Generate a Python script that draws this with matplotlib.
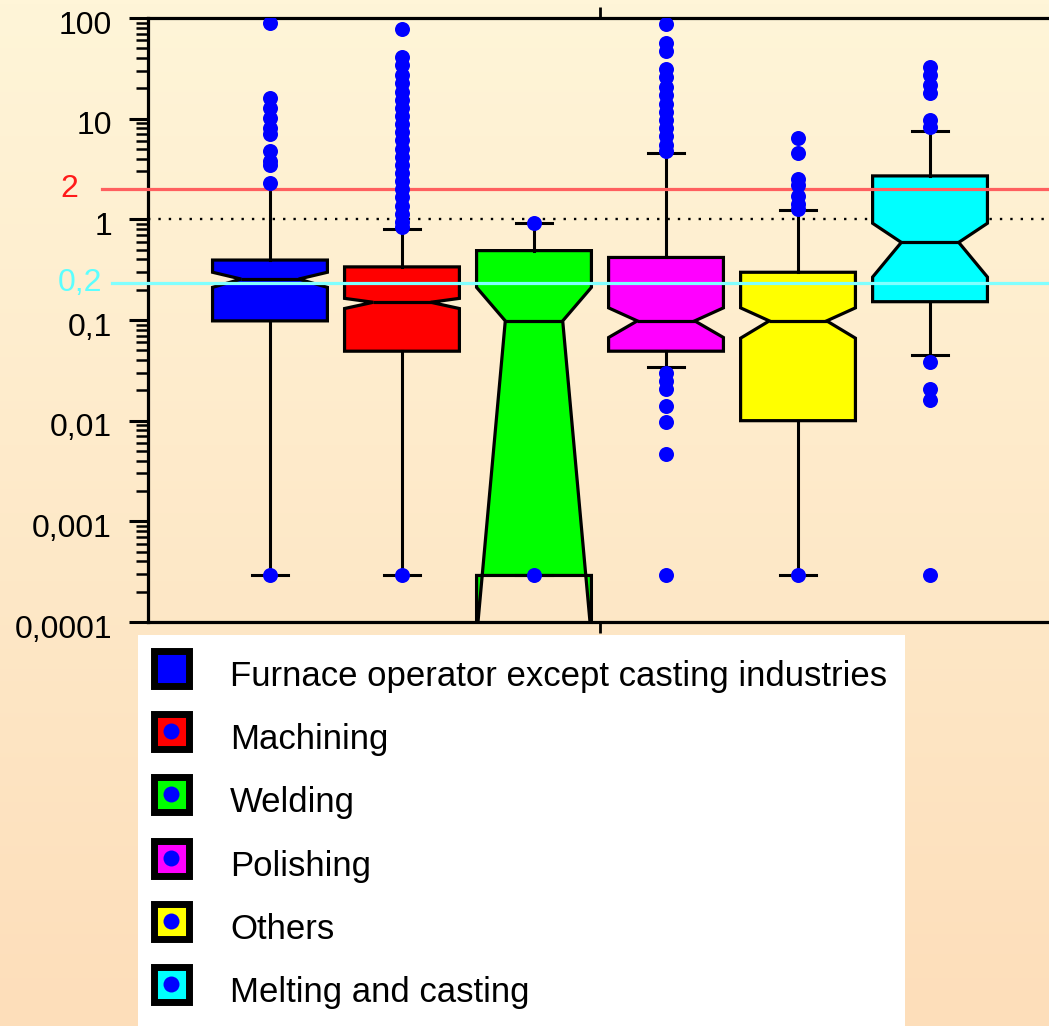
import numpy as np
import matplotlib
matplotlib.use('Agg')
import matplotlib.pyplot as plt
from matplotlib import transforms
from matplotlib.ticker import LogLocator, NullFormatter, NullLocator

plt.rcParams['font.family'] = ['Liberation Sans', 'DejaVu Sans']

# ---------------- data ----------------
categories = ["Furnace operator except casting industries", "Machining", "Welding",
              "Polishing", "Others", "Melting and casting"]
box_colors = ['#0000ff', '#ff0000', '#00ff00', '#ff00ff', '#ffff00', '#00ffff']

q1 = [0.098, 0.049, 0.00029, 0.049, 0.010, 0.152]
med = [0.255, 0.150, 0.098, 0.098, 0.098, 0.59]
q3 = [0.394, 0.337, 0.489, 0.418, 0.298, 2.70]
cilo = [0.211, 0.130, 0.00007, 0.067, 0.066, 0.267]
cihi = [0.298, 0.164, 0.211, 0.132, 0.132, 0.914]
whislo = [0.00029, 0.00029, 0.00029, 0.0342, 0.00029, 0.0453]
whishi = [2.05, 0.80, 0.923, 4.51, 1.24, 7.46]

fliers_furnace = [89.4, 16.2, 12.8, 10.2, 8.05, 7.0, 4.73, 3.81, 3.47, 2.32, 0.00029]
fliers_machining = [77.8, 41.2, 34.2, 27.1, 22.5, 18.6, 15.5, 12.8, 10.6, 8.8, 7.3, 6.1,
                    5.0, 4.2, 3.5, 2.9, 2.4, 2.0, 1.65, 1.36, 1.13, 0.94, 0.84, 0.00029]
fliers_welding = [0.93, 0.00029]
fliers_polishing = [86.9, 57.0, 47.4, 31.1, 25.8, 20.5, 17.0, 14.1, 11.7, 9.7, 8.05, 6.7,
                    5.5, 4.8, 0.0297, 0.0247, 0.0205, 0.0141, 0.0097, 0.0047, 0.00029]
fliers_others = [6.37, 4.6, 2.5, 2.18, 1.72, 1.43, 1.26, 0.00029]
fliers_melting = [32.6, 27.1, 21.4, 18.1, 9.7, 8.3, 0.0383, 0.0205, 0.0162, 0.00029]
fliers = [fliers_furnace, fliers_machining, fliers_welding,
          fliers_polishing, fliers_others, fliers_melting]

y_ticks = [1e-4, 1e-3, 1e-2, 1e-1, 1, 10, 100]
y_tick_labels = ['0,0001', '0,001', '0,01', '0,1', '1', '10', '100']

limit_high = 2.0
limit_high_label = '2'
limit_low = 0.235
limit_low_label = '0,2'
reference_level = 1.0

# ---------------- figure ----------------
W, H = 1049, 1026
fig = plt.figure(figsize=(W / 100, H / 100), dpi=100)

bg = fig.add_axes([0, 0, 1, 1], zorder=-10)
grad = np.linspace(0, 1, 256)[:, None, None]
top_c = np.array([255, 245, 216]) / 255.0
bot_c = np.array([253, 222, 186]) / 255.0
img = top_c + (bot_c - top_c) * grad
bg.imshow(img, aspect='auto', extent=[0, 1, 0, 1])
bg.axis('off')

ax = fig.add_axes([148 / W, 1 - 622 / H, 904 / W, 604 / H])
ax.patch.set_alpha(0)
ax.set_yscale('log')
ax.set_ylim(1e-4, 100)
ax.set_xlim(0.076, 6.924)

positions = np.arange(1, len(categories) + 1)
stats = []
for i in range(len(categories)):
    stats.append(dict(med=med[i], q1=q1[i], q3=q3[i], whislo=whislo[i], whishi=whishi[i],
                      cilo=cilo[i], cihi=cihi[i], fliers=fliers[i], label=categories[i]))

bp = ax.bxp(stats, positions=positions, widths=0.87, capwidths=0.27,
            shownotches=True, patch_artist=True, manage_ticks=False,
            boxprops=dict(linewidth=2.3, edgecolor='black'),
            whiskerprops=dict(linewidth=2.2, color='black'),
            capprops=dict(linewidth=2.2, color='black'),
            medianprops=dict(linewidth=2.3, color='black'),
            flierprops=dict(marker='o', markerfacecolor='#0000ff', markeredgecolor='none',
                            markersize=10.8, zorder=4))
for patch, c in zip(bp['boxes'], box_colors):
    patch.set_facecolor(c)
bp['caps'][1].set_visible(False)

ax.axhline(reference_level, color='black', lw=1.7, linestyle=(0, (1, 3.4)), zorder=0.5)

trans = transforms.blended_transform_factory(ax.transAxes, ax.transData)
ax.plot([-0.051, 1.0], [limit_high, limit_high], color='#ff5f5f', lw=2.3,
        transform=trans, clip_on=False, zorder=3)
ax.plot([-0.040, 1.0], [limit_low, limit_low], color='#80ffff', lw=2.3,
        transform=trans, clip_on=False, zorder=3)
ax.text(-0.0874, limit_high, limit_high_label, color='#ff1a1a', fontsize=23,
        ha='center', va='center', transform=trans)
ax.text(-0.075, limit_low, limit_low_label, color='#5cffff', fontsize=23,
        ha='center', va='center', transform=trans)

ax.set_yticks(y_ticks)
ax.set_yticklabels(y_tick_labels)
ax.yaxis.set_minor_locator(LogLocator(base=10, subs=np.arange(2, 10), numticks=20))
ax.yaxis.set_minor_formatter(NullFormatter())
ax.tick_params(axis='y', which='major', direction='out', length=14, width=2.2,
               labelsize=23, pad=12)
ax.tick_params(axis='y', which='minor', direction='out', length=9, width=1.8)
ax.set_xticks([3.5])
ax.xaxis.set_minor_locator(NullLocator())
ax.tick_params(axis='x', which='major', direction='out', top=True, bottom=True,
               length=8, width=2, labelbottom=False)
for lab in ax.get_yticklabels():
    lab.set_transform(lab.get_transform() +
                      transforms.ScaledTranslation(0, -4 / 100, fig.dpi_scale_trans))
for s in ax.spines.values():
    s.set_linewidth(2.3)

# ---------------- legend ----------------
lax = fig.add_axes([138 / W, 0, (905 - 138) / W, (1026 - 635) / H])
lax.set_facecolor('white')
lax.set_xlim(138, 905)
lax.set_ylim(1026, 635)
for s in lax.spines.values():
    s.set_visible(False)
lax.set_xticks([])
lax.set_yticks([])
for i, (name, c) in enumerate(zip(categories, box_colors)):
    yy = 668 + 63.2 * i
    lax.plot(171, yy, marker='s', ms=25.2, mfc=c, mec='black', mew=5, ls='none')
    lax.plot(171, yy, marker='o', ms=11.5, mfc='#0000ff', mec='none', ls='none')
    lax.text(230, yy + 18, name, fontsize=25, ha='left', va='baseline', color='black')

fig.savefig('out.png', dpi=100)
